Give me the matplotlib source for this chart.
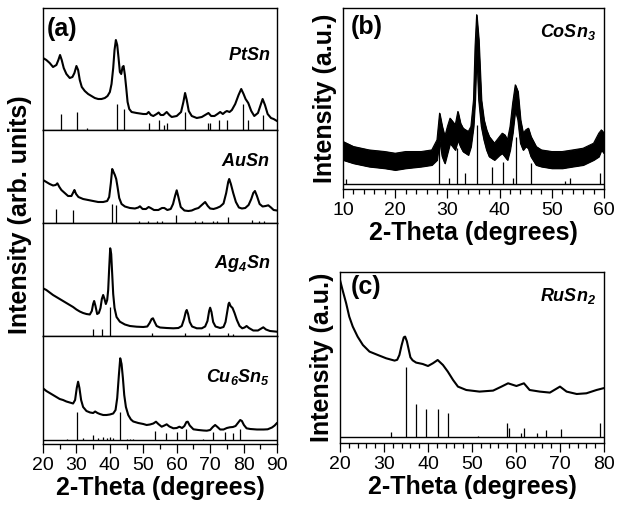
import numpy as np
import matplotlib
matplotlib.use("Agg")
import matplotlib.pyplot as plt
from matplotlib.ticker import MultipleLocator

plt.rcParams['font.family'] = ['Liberation Sans', 'DejaVu Sans']
plt.rcParams['mathtext.fontset'] = 'custom'
plt.rcParams['mathtext.rm'] = 'Liberation Sans'
plt.rcParams['mathtext.it'] = 'Liberation Sans:italic'
plt.rcParams['mathtext.bf'] = 'Liberation Sans:bold'
plt.rcParams['mathtext.bfit'] = 'Liberation Sans:italic:bold'

# ---- panel (a) data, intensity in arbitrary units ----
ptsn_x = [20.0, 21.0, 22.0, 23.0, 24.0, 24.6, 25.1, 25.6, 26.2, 27.0, 28.0, 28.8, 29.4, 30.0, 30.5,
          31.0, 31.6, 32.5, 33.5, 34.5, 35.5, 36.5, 37.5, 38.5, 39.3, 40.0, 40.5, 41.0, 41.4, 41.8,
          42.2, 42.6, 43.0, 43.4, 43.8, 44.1, 44.5, 44.9, 45.3, 45.8, 46.5, 48.0, 50.0, 51.0, 51.6,
          52.3, 53.0, 54.0, 54.6, 55.2, 56.0, 57.0, 57.8, 58.5, 60.0, 61.3, 62.0, 62.5, 63.0, 63.6,
          64.5, 66.0, 67.5, 68.5, 69.5, 70.3, 71.3, 72.2, 73.0, 73.8, 74.5, 75.0, 75.8, 76.5, 77.5,
          78.5, 79.3, 80.0, 80.6, 81.4, 82.3, 83.2, 84.3, 85.0, 85.7, 86.4, 87.2, 88.2, 89.0, 90.0]
ptsn_y = [72, 70, 67, 63, 65, 70, 75, 70, 62, 56, 52, 53, 57, 64, 60,
          50, 43, 39, 36, 34, 32, 31, 31, 32, 34, 38, 46, 62, 80, 90,
          85, 72, 58, 56, 63, 64, 55, 42, 28, 21, 18, 17, 16, 16, 18,
          15, 14, 16, 17.5, 15, 15, 18, 15, 13, 14, 18, 28, 37, 30, 19,
          14, 12, 13, 15, 17, 14, 14, 16, 18, 16, 18, 19, 18, 20, 26,
          35, 41, 36, 31, 27, 19, 14, 17, 24, 31, 25, 16, 12, 11, 9]
ptsn_ref_x = [25.3, 30.1, 33.1, 42.0, 44.2, 51.8, 54.6, 56.3, 57.2, 62.5, 69.3, 70.0, 72.7, 75.0, 79.7, 81.4, 85.7]
ptsn_ref_h = [15.7, 18.3, 2.3, 26, 20.7, 7.3, 10, 5, 7.3, 18.3, 7.3, 7.3, 10, 10, 26, 10, 15]

ausn_x = [20.0, 21.0, 22.0, 23.0, 23.8, 24.3, 24.9, 25.5, 26.5, 27.5, 28.5, 29.1, 29.4, 29.9, 30.6,
          32.0, 33.5, 35.0, 36.5, 38.0, 39.2, 39.8, 40.3, 40.7, 41.1, 41.5, 41.9, 42.3, 42.8, 43.5,
          44.5, 46.0, 47.5, 48.5, 49.0, 49.8, 50.8, 51.6, 52.2, 53.2, 54.5, 55.6, 56.3, 57.2, 58.2,
          58.9, 59.5, 60.0, 60.5, 61.2, 62.3, 63.5, 64.5, 65.5, 66.5, 67.5, 68.5, 69.3, 70.0, 71.0,
          72.0, 73.0, 74.0, 74.8, 75.4, 75.7, 76.2, 76.9, 77.7, 78.6, 79.5, 80.5, 81.5, 82.3, 82.9,
          83.4, 84.0, 84.8, 85.7, 86.6, 87.4, 88.2, 89.0, 90.0]
ausn_y = [43, 41, 39, 37.5, 38, 39.7, 36, 33, 30, 27, 27, 31, 33, 29, 26,
          24, 23, 22, 21, 21, 22, 26, 40, 54, 51, 48, 44, 36, 25, 19,
          16.5, 15, 14.5, 15.5, 16.7, 14, 14, 16, 15, 13, 13, 15, 15, 13, 14,
          19, 27, 32.7, 26, 16, 12.5, 12, 12.5, 14, 15, 18, 21, 17, 14.5, 14,
          15, 16.5, 19.5, 30, 41, 44, 39, 30, 21, 15.5, 14.5, 15, 18, 24, 30,
          32, 27, 19, 16.5, 17, 17.7, 15.5, 13, 12.5]
ausn_ref_x = [23.9, 29.1, 40.5, 41.7, 48.6, 51.5, 54.0, 55.5, 59.8, 65.5, 67.6, 71.0, 72.0, 75.4, 82.5, 84.5, 86.0]
ausn_ref_h = [14.3, 12.7, 19.3, 17.7, 2, 2, 2, 2, 7.7, 2, 2, 2, 2, 6, 3, 2, 2]

ag4sn_x = [20.0, 21.0, 22.0, 23.0, 24.0, 25.0, 26.0, 27.0, 28.0, 29.0, 30.0, 31.0, 32.0, 33.0, 34.0,
           34.6, 35.0, 35.3, 35.7, 36.2, 36.7, 37.2, 37.6, 38.0, 38.4, 38.8, 39.2, 39.5, 39.8, 40.1,
           40.4, 40.7, 41.0, 41.4, 42.0, 43.0, 44.5, 46.0, 48.0, 50.0, 51.2, 51.9, 52.5, 52.9, 53.4,
           54.0, 55.0, 57.0, 59.0, 60.5, 61.5, 62.2, 62.7, 63.0, 63.4, 63.9, 64.6, 66.0, 67.5, 68.5,
           69.2, 69.7, 70.0, 70.4, 70.9, 71.6, 73.0, 74.0, 74.6, 75.1, 75.5, 75.7, 76.1, 76.7, 77.3,
           78.0, 78.8, 79.6, 80.3, 80.9, 81.6, 82.9, 84.3, 85.3, 85.9, 86.7, 87.9, 90.0]
ag4sn_y = [47.7, 46, 43.5, 41, 39, 37, 35, 33, 31, 29, 26.5, 24.5, 23, 22, 21.5,
           25, 32, 35, 30, 22, 23, 28, 37, 41, 37, 32, 36, 46, 68, 87.7,
           82, 62, 42, 28, 19, 14.3, 11.5, 10, 9.3, 9, 9.5, 13, 17, 17.7, 14,
           10, 8.5, 8, 7.7, 8, 10, 17, 24, 26, 22, 14, 9.5, 7.7, 7.7, 9.5,
           15, 25, 28.3, 24, 14, 9.5, 8, 9, 14, 24, 32, 33.3, 30, 28, 23,
           16, 10, 7.7, 8.5, 10, 8, 5.5, 5.5, 7.5, 8.7, 6.5, 5, 4.3]
ag4sn_ref_x = [35.1, 37.6, 40.0, 52.5, 62.6, 69.7, 75.4, 76.8]
ag4sn_ref_h = [7.3, 7.3, 29, 3, 3.3, 3, 3, 2]

cu6sn5_x = [20.0, 21.0, 22.0, 23.0, 24.0, 25.0, 26.0, 27.0, 28.0, 29.0, 29.6, 30.1, 30.5, 30.9, 31.4,
            32.0, 33.0, 34.1, 35.0, 35.6, 36.3, 37.0, 38.0, 39.0, 40.0, 41.0, 41.7, 42.2, 42.7, 43.1,
            43.5, 43.9, 44.3, 44.8, 45.5, 46.3, 47.0, 48.5, 50.0, 51.0, 52.0, 53.0, 53.8, 54.5, 55.5,
            56.3, 57.0, 57.8, 59.0, 60.0, 60.8, 61.6, 62.3, 62.9, 63.3, 63.9, 65.0, 66.5, 68.0, 69.0,
            70.0, 70.8, 71.5, 72.2, 73.0, 74.0, 75.0, 75.9, 76.8, 77.6, 78.3, 79.0, 79.5, 80.1, 80.9,
            82.0, 84.0, 86.0, 87.2, 88.5, 89.3, 89.9]
cu6sn5_y = [51.7, 49, 47, 45, 43, 41, 40, 38.5, 37.5, 36.5, 40, 52, 58.3, 52, 40,
            33, 29, 27.5, 27, 28.5, 27, 26, 25, 25, 25.5, 26.5, 30, 42, 65, 81.7,
            76, 62, 45, 33, 25, 20.5, 18.5, 17, 16, 15, 15.5, 16.5, 18.3, 16, 13.3,
            14.5, 15.7, 13.5, 11.7, 12, 13.3, 12, 14, 18, 18.3, 14.5, 10.7, 10, 9.5, 9.3,
            10, 13, 15, 13, 10.5, 10.5, 12, 12.7, 13, 14, 17, 20, 19, 15, 11.7,
            11, 10.5, 10.5, 10.7, 12.5, 14.5, 16.7]
cu6sn5_ref_x = [27.1, 30.1, 32.1, 35.0, 36.5, 38.0, 39.0, 40.0, 41.0, 43.1, 45.0, 46.0, 47.0,
                53.5, 56.8, 60.1, 62.7, 67.9, 71.0, 74.5, 76.8, 79.0]
cu6sn5_ref_h = [1, 27.7, 2, 5, 2.5, 3, 2.5, 3, 2.5, 28, 1, 1, 1,
                8.7, 7.5, 8.3, 10.8, 1, 8.3, 8.3, 6.7, 11.2]

# ---- panel (b) CoSn3: noise band (upper / lower envelope) ----
cosn3_x = [10, 12, 15, 18, 20, 22, 25, 27, 28, 28.5, 29, 29.5, 30, 30.5, 31, 31.5, 32, 32.5, 33,
           33.5, 34, 34.5, 35, 35.3, 35.6, 36, 36.5, 37, 37.5, 38, 39, 40, 40.5, 41, 41.5, 42,
           42.5, 43, 43.5, 44, 44.5, 45, 45.5, 46, 47, 48, 50, 52, 54, 56, 58, 59, 59.5, 60]
cosn3_hi = [42.7, 37.7, 34.3, 32.7, 31, 32.7, 32.7, 34.3, 44.3, 71, 57.7, 47.7, 57.7, 66, 62.7, 59.3, 72.7, 61, 56,
            54.3, 52.7, 57.7, 84.3, 137.7, 169.3, 144.3, 84.3, 64.3, 54.3, 47.7, 41, 47.7, 51, 49.3, 44.3, 57.7,
            81, 99.3, 92.7, 64.3, 51, 54.3, 56, 47.7, 37.7, 34.3, 32.7, 32.7, 34.3, 36, 41, 51, 54.3, 51]
cosn3_lo = [24.3, 21, 17.7, 16, 14.3, 16, 17.7, 19.3, 24.3, 44.3, 27.7, 21, 31, 41, 37.7, 34.3, 44.3, 37.7, 32.7,
            31, 29.3, 37.7, 57.7, 84.3, 134.3, 84.3, 57.7, 44.3, 34.3, 27.7, 24.3, 29.3, 31, 27.7, 24.3, 34.3,
            51, 74.3, 64.3, 41, 34.3, 37.7, 36, 27.7, 19.3, 17.7, 16, 16, 17.7, 19.3, 24.3, 27.7, 34.3, 31]
cosn3_ref_x = [10.5, 28.4, 30.4, 31.9, 33.3, 35.7, 38.5, 40.6, 42.6, 43.2, 46.0, 52.6, 53.4, 59.2]
cosn3_ref_h = [5.5, 44.3, 6, 36, 11.5, 59.3, 17.7, 22.7, 6, 47.7, 21, 3.5, 6, 11]

# ---- panel (c) RuSn2 ----
rusn2_x = [20, 20.6, 21.4, 22.1, 22.9, 24.0, 25.2, 26.7, 28.6, 30.5, 32.4, 33.0, 33.5, 34.0, 34.5,
           34.8, 35.2, 35.6, 36.0, 36.5, 37.3, 38.8, 40.0, 41.1, 42.2, 43.4, 44.5, 45.7, 46.8, 48.7,
           51.7, 54.8, 56.7, 58.2, 60.1, 61.8, 63.1, 65.4, 67.7, 70.0, 71.5, 73.8, 76.0, 78.3, 79.8]
rusn2_y = [157.3, 147, 134, 120.7, 110.7, 100.7, 92.3, 85.7, 82.3, 79, 76.7, 77.5, 82.3, 92, 100,
           100.7, 96, 88, 80, 77, 74.7, 73.3, 71.3, 74, 77.3, 72.3, 65.7, 57.3, 50.7, 47.3,
           45.7, 46.7, 50.7, 54, 51.3, 54, 47.3, 45.7, 44.7, 50.7, 45.7, 43.3, 44, 47.3, 49]
rusn2_ref_x = [31.5, 35.0, 37.3, 39.6, 42.2, 44.5, 51.4, 58.0, 58.3, 61.2, 61.8, 64.8, 66.8, 70.3, 79.2]
rusn2_ref_h = [5.7, 70, 33.3, 28, 28, 24.7, 1.5, 14.7, 9, 4, 9.7, 4.7, 7.3, 8, 14.7]

W, H = 620, 508
fig = plt.figure(figsize=(6.2, 5.08), dpi=100)

def box(x0, y0, x1, y1):
    # pixel box (top-left origin) -> figure fraction
    return [x0 / W, 1 - y1 / H, (x1 - x0) / W, (y1 - y0) / H]

def style(ax):
    for s in ax.spines.values():
        s.set_linewidth(1.0)
    ax.set_yticks([])
    ax.tick_params(axis='x', which='major', direction='out', length=6.5, width=0.9, labelsize=14, pad=3)
    ax.tick_params(axis='x', which='minor', direction='out', length=3.8, width=0.9)

# panel (a): four stacked patterns
rows = [
    (ptsn_x, ptsn_y, ptsn_ref_x, ptsn_ref_h, 8, 130, 0, r'$\mathbfit{PtSn}$', 55),
    (ausn_x, ausn_y, ausn_ref_x, ausn_ref_h, 130, 223, 0, r'$\mathbfit{AuSn}$', 162),
    (ag4sn_x, ag4sn_y, ag4sn_ref_x, ag4sn_ref_h, 223, 336, 0, r'$\mathbfit{Ag_4Sn}$', 263),
    (cu6sn5_x, cu6sn5_y, cu6sn5_ref_x, cu6sn5_ref_h, 336, 444, 4, r'$\mathbfit{Cu_6Sn_5}$', 377),
]
for i, (x, y, rx, rh, top, bot, off, name, ly) in enumerate(rows):
    ax = fig.add_axes(box(43, top, 277, bot))
    style(ax)
    ax.plot(x, y, color='k', lw=1.5)
    ax.vlines(rx, 0, rh, color='k', lw=0.9)
    ax.set_xlim(20, 90)
    ax.set_ylim(-off, bot - top - off)
    if off:
        ax.axhline(0, color='k', lw=1.0)
    ax.text(270 / W, 1 - ly / H, name, transform=fig.transFigure, ha='right', va='center',
            fontsize=13)
    if i < 3:
        ax.set_xticks([])
    else:
        ax.xaxis.set_major_locator(MultipleLocator(10))
        ax.xaxis.set_minor_locator(MultipleLocator(5))
        ax.set_xlabel('2-Theta (degrees)', fontsize=18, fontweight='bold', labelpad=1)
fig.text(47 / W, 1 - 29 / H, '(a)', fontsize=18, fontweight='bold', va='center')
fig.text(20 / W, 1 - 215 / H, 'Intensity (arb. units)', fontsize=18, fontweight='bold',
         rotation=90, ha='center', va='center')

# panel (b)
axb = fig.add_axes(box(343, 8, 604, 189.3))
style(axb)
axb.fill_between(cosn3_x, cosn3_lo, cosn3_hi, color='k', lw=0.8)
axb.plot(cosn3_x, cosn3_hi, color='k', lw=0.8)
axb.plot(cosn3_x, cosn3_lo, color='k', lw=0.8)
axb.vlines(cosn3_ref_x, 0, cosn3_ref_h, color='k', lw=0.9)
axb.axhline(0, color='k', lw=1.0)
axb.set_xlim(10, 60)
axb.set_ylim(-5, 176)
axb.xaxis.set_major_locator(MultipleLocator(10))
axb.xaxis.set_minor_locator(MultipleLocator(2))
axb.set_xlabel('2-Theta (degrees)', fontsize=18, fontweight='bold', labelpad=1)
axb.set_ylabel('Intensity (a.u.)', fontsize=18, fontweight='bold', labelpad=4)
axb.text(0.03, 0.895, '(b)', transform=axb.transAxes, fontsize=18, fontweight='bold', va='center')
axb.text(0.97, 0.868, r'$\mathbfit{CoSn_3}$', transform=axb.transAxes, fontsize=13,
         ha='right', va='center')

# panel (c)
axc = fig.add_axes(box(340, 272, 604, 443.3))
style(axc)
axc.plot(rusn2_x, rusn2_y, color='k', lw=1.5)
axc.vlines(rusn2_ref_x, 0, rusn2_ref_h, color='k', lw=0.9)
axc.axhline(0, color='k', lw=1.0)
axc.set_xlim(20, 80)
axc.set_ylim(-6, 165.3)
axc.xaxis.set_major_locator(MultipleLocator(10))
axc.xaxis.set_minor_locator(MultipleLocator(2))
axc.set_xlabel('2-Theta (degrees)', fontsize=18, fontweight='bold', labelpad=1)
axc.set_ylabel('Intensity (a.u.)', fontsize=18, fontweight='bold', labelpad=4)
axc.text(0.04, 0.91, '(c)', transform=axc.transAxes, fontsize=18, fontweight='bold', va='center')
axc.text(0.97, 0.86, r'$\mathbfit{RuSn_2}$', transform=axc.transAxes, fontsize=13,
         ha='right', va='center')

fig.savefig('out.png', dpi=100)
